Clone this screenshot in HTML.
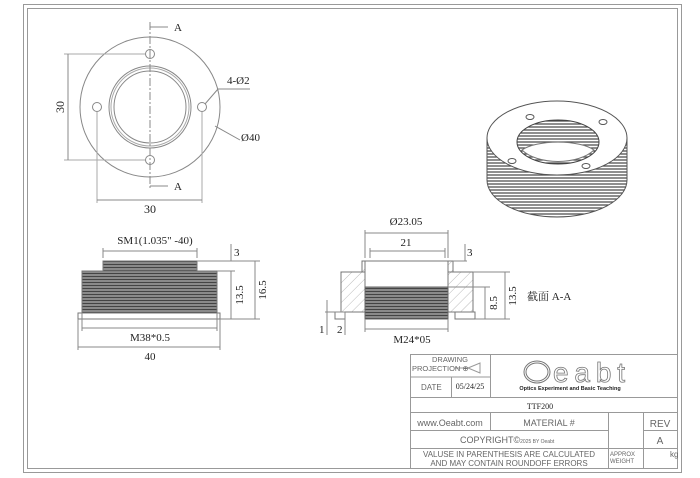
<!DOCTYPE html>
<html><head><meta charset="utf-8"><style>
html,body{margin:0;padding:0;background:#fff}
svg{display:block}
text{font-family:"Liberation Serif","Noto Serif CJK SC",serif;fill:#222}
.s{font-family:"Liberation Sans",sans-serif;fill:#666}
</style></head><body>
<svg width="700" height="478" viewBox="0 0 700 478" xmlns="http://www.w3.org/2000/svg">
<defs>
<pattern id="thr" width="6" height="3" patternUnits="userSpaceOnUse"><rect width="6" height="3" fill="#8a8a8a"/><line x1="0" y1="0.5" x2="6" y2="0.5" stroke="#444" stroke-width="1"/></pattern>
<pattern id="hat" width="7" height="7" patternUnits="userSpaceOnUse" patternTransform="rotate(45)"><line x1="0" y1="0" x2="0" y2="7" stroke="#aaa" stroke-width="0.8"/></pattern>
<pattern id="cyl" width="4" height="3" patternUnits="userSpaceOnUse"><rect width="4" height="3" fill="#fff"/><line x1="0" y1="1" x2="4" y2="1" stroke="#444" stroke-width="1.2"/></pattern>
</defs>
<g fill="none" stroke="#999">
<rect x="23.5" y="4.5" width="658" height="468"/>
<rect x="27.5" y="8.5" width="650" height="460"/>
</g>
<!-- front view -->
<g fill="none" stroke="#888" stroke-width="1">
<circle cx="150" cy="107" r="70"/>
<circle cx="150" cy="107" r="41"/><circle cx="150" cy="107" r="39" stroke="#aaa"/><circle cx="150" cy="107" r="36"/>
<circle cx="150" cy="54" r="4.5"/><circle cx="150" cy="160" r="4.5"/><circle cx="97" cy="107" r="4.5"/><circle cx="202" cy="107" r="4.5"/>
<line x1="150" y1="22" x2="150" y2="190" stroke-dasharray="8,2,2,2"/>
<line x1="150" y1="27" x2="168" y2="27"/><line x1="150" y1="186" x2="168" y2="186"/>
<line x1="145" y1="54" x2="64" y2="54" stroke="#aaa"/><line x1="145" y1="160" x2="64" y2="160" stroke="#aaa"/>
<line x1="68" y1="54" x2="68" y2="160"/>
<line x1="97" y1="112" x2="97" y2="203" stroke="#aaa"/><line x1="202" y1="112" x2="202" y2="203" stroke="#aaa"/>
<line x1="97" y1="200" x2="202" y2="200"/>
<line x1="205" y1="104" x2="218" y2="89"/><line x1="218" y1="89" x2="250" y2="89"/>
<line x1="215" y1="126" x2="240" y2="140"/>
</g>
<text x="174" y="31" font-size="11">A</text><text x="174" y="190" font-size="11">A</text>
<text x="64" y="107" font-size="12" transform="rotate(-90 64 107)" text-anchor="middle">30</text>
<text x="150" y="213" font-size="12" text-anchor="middle">30</text>
<text x="227" y="84" font-size="11">4-Ø2</text>
<text x="241" y="141" font-size="11">Ø40</text>
<!-- side view -->
<rect x="103" y="261" width="94" height="10" fill="url(#thr)" stroke="#777"/>
<rect x="82" y="271" width="135" height="42" fill="url(#thr)" stroke="#777"/>
<rect x="78" y="313" width="142" height="6" fill="#fff" stroke="#777"/>
<g fill="none" stroke="#888">
<line x1="103" y1="258" x2="103" y2="248"/><line x1="197" y1="258" x2="197" y2="248"/><line x1="103" y1="251" x2="197" y2="251"/>
<line x1="197" y1="261" x2="260" y2="261"/><line x1="217" y1="271" x2="235" y2="271"/><line x1="220" y1="319" x2="260" y2="319"/>
<line x1="231" y1="244" x2="231" y2="261"/><line x1="231" y1="271" x2="231" y2="319"/><line x1="255" y1="261" x2="255" y2="319"/>
<line x1="82" y1="313" x2="82" y2="331"/><line x1="217" y1="313" x2="217" y2="331"/><line x1="82" y1="328" x2="217" y2="328"/>
<line x1="78" y1="319" x2="78" y2="350"/><line x1="220" y1="319" x2="220" y2="350"/><line x1="78" y1="347" x2="220" y2="347"/>
</g>
<text x="155" y="244" font-size="11" text-anchor="middle">SM1(1.035" -40)</text>
<text x="234" y="256" font-size="11">3</text>
<text x="243" y="295" font-size="11" transform="rotate(-90 243 295)" text-anchor="middle">13.5</text>
<text x="266" y="290" font-size="11" transform="rotate(-90 266 290)" text-anchor="middle">16.5</text>
<text x="150" y="341" font-size="11" text-anchor="middle">M38*0.5</text>
<text x="150" y="360" font-size="11" text-anchor="middle">40</text>
<!-- section view -->
<rect x="341" y="272" width="132" height="40" fill="url(#hat)" stroke="#777"/>
<rect x="362" y="261" width="91" height="11" fill="url(#hat)" stroke="#777"/>
<rect x="365" y="261" width="83" height="26" fill="#fff" stroke="#777"/>
<rect x="365" y="287" width="83" height="32" fill="url(#thr)" stroke="#666"/>
<rect x="335" y="312" width="10" height="7" fill="#fff" stroke="#777"/>
<rect x="455" y="312" width="20" height="7" fill="#fff" stroke="#777"/>
<g fill="none" stroke="#888">
<line x1="365" y1="258" x2="365" y2="230"/><line x1="448" y1="258" x2="448" y2="230"/><line x1="365" y1="233" x2="448" y2="233"/>
<line x1="370" y1="258" x2="370" y2="248"/><line x1="445" y1="258" x2="445" y2="248"/><line x1="370" y1="251" x2="445" y2="251"/>
<line x1="453" y1="261" x2="467" y2="261"/><line x1="465" y1="244" x2="465" y2="261"/>
<line x1="448" y1="287" x2="490" y2="287"/><line x1="473" y1="272" x2="510" y2="272"/><line x1="475" y1="319" x2="510" y2="319"/>
<line x1="485" y1="287" x2="485" y2="319"/><line x1="505" y1="272" x2="505" y2="319"/>
<line x1="365" y1="319" x2="365" y2="332"/><line x1="448" y1="319" x2="448" y2="332"/><line x1="365" y1="329" x2="448" y2="329"/>
<line x1="327" y1="300" x2="327" y2="335"/><line x1="345" y1="312" x2="345" y2="335"/><line x1="325" y1="312" x2="345" y2="312"/>
</g>
<text x="406" y="225" font-size="11" text-anchor="middle">Ø23.05</text>
<text x="406" y="246" font-size="11" text-anchor="middle">21</text>
<text x="467" y="256" font-size="11">3</text>
<text x="497" y="303" font-size="11" transform="rotate(-90 497 303)" text-anchor="middle">8.5</text>
<text x="516" y="296" font-size="11" transform="rotate(-90 516 296)" text-anchor="middle">13.5</text>
<text x="527" y="300" font-size="11">截面 A-A</text>
<text x="319" y="333" font-size="11">1</text><text x="337" y="333" font-size="11">2</text>
<text x="412" y="343" font-size="11" text-anchor="middle">M24*05</text>
<!-- 3D view -->
<path d="M487 138 L487 180 A70 37 0 0 0 627 180 L627 138 Z" fill="url(#cyl)" stroke="#555"/>
<ellipse cx="557" cy="138" rx="70" ry="37" fill="#fff" stroke="#555"/>
<ellipse cx="558" cy="142" rx="41" ry="22" fill="url(#cyl)" stroke="#444"/>
<path d="M522 150 A41 22 0 0 0 594 150 A40 14 0 0 0 522 150Z" fill="#fff" stroke="#777"/>
<g fill="#fff" stroke="#555"><ellipse cx="530" cy="117" rx="4" ry="2.5"/><ellipse cx="603" cy="122" rx="4" ry="2.5"/><ellipse cx="512" cy="161" rx="4" ry="2.5"/><ellipse cx="586" cy="166" rx="4" ry="2.5"/></g>
<!-- title block -->
<g fill="none" stroke="#999">
<rect x="410.5" y="354.5" width="267" height="114"/>
<line x1="410" y1="377" x2="490" y2="377"/>
<line x1="490.5" y1="354" x2="490.5" y2="397"/>
<line x1="451.5" y1="377" x2="451.5" y2="397"/>
<line x1="410" y1="397.5" x2="678" y2="397.5"/>
<line x1="410" y1="412.5" x2="678" y2="412.5"/>
<line x1="490.5" y1="412" x2="490.5" y2="430"/>
<line x1="410" y1="430.5" x2="608" y2="430.5"/>
<line x1="643" y1="430.5" x2="678" y2="430.5"/>
<line x1="410" y1="448.5" x2="678" y2="448.5"/>
<line x1="608.5" y1="412" x2="608.5" y2="468"/>
<line x1="643.5" y1="412" x2="643.5" y2="468"/>
<path d="M468 368 L480 363 L480 373 Z M455 368 H468"/>
<ellipse cx="537" cy="372" rx="13" ry="11" stroke="#777"/>
<ellipse cx="537" cy="372" rx="11" ry="9" stroke="#777"/>
</g>
<text class="s" x="450" y="362" font-size="7.5" text-anchor="middle">DRAWING</text>
<text class="s" x="412" y="371" font-size="7.5">PROJECTION ⊕</text>
<text class="s" x="421" y="390" font-size="8">DATE</text>
<text x="470" y="389" font-size="8" text-anchor="middle">05/24/25</text>
<text x="553" y="382" font-size="28" style="font-family:'Liberation Sans',sans-serif;fill:#fff;stroke:#777;stroke-width:0.8" textLength="72">eabt</text>
<text x="570" y="390" font-size="5.5" text-anchor="middle" style="font-family:'Liberation Sans',sans-serif;font-weight:bold">Optics Experiment and Basic Teaching</text>
<text x="540" y="409" font-size="8" text-anchor="middle">TTF200</text>
<text class="s" x="450" y="426" font-size="9" text-anchor="middle">www.Oeabt.com</text>
<text class="s" x="549" y="426" font-size="9" text-anchor="middle">MATERIAL #</text>
<text class="s" x="660" y="427" font-size="10" text-anchor="middle">REV</text>
<text class="s" x="460" y="443" font-size="9">COPYRIGHT©<tspan font-size="5">2025 BY Oeabt</tspan></text>
<text class="s" x="660" y="444" font-size="10" text-anchor="middle">A</text>
<text class="s" x="509" y="457" font-size="8" text-anchor="middle">VALUSE IN PARENTHESIS ARE CALCULATED</text>
<text class="s" x="509" y="466" font-size="8" text-anchor="middle">AND MAY CONTAIN ROUNDOFF ERRORS</text>
<text class="s" x="610" y="456" font-size="6">APPROX</text>
<text class="s" x="610" y="463" font-size="6">WEIGHT</text>
<text class="s" x="670" y="457" font-size="8">kg</text>
</svg>
</body></html>
